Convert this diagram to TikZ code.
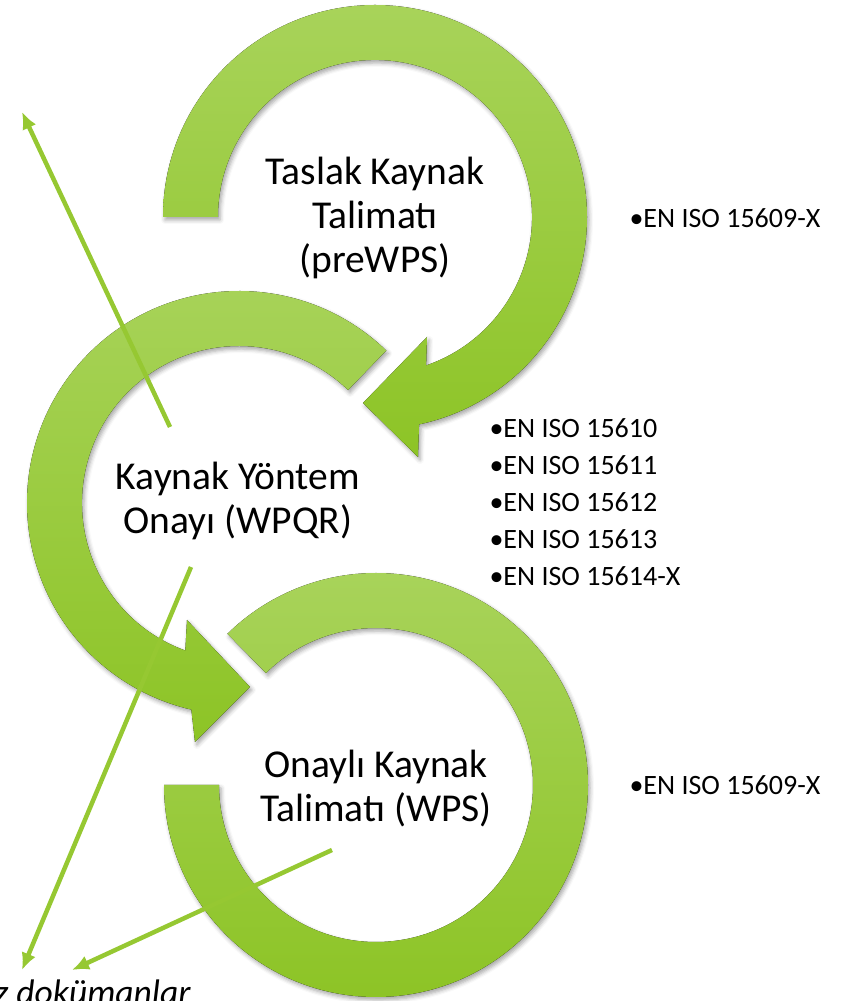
\documentclass[tikz,border=0pt]{standalone}
\usepackage{fontspec}
\setmainfont{Carlito}
\usepackage{tikz}
\usetikzlibrary{
  positioning,
  shadows.blur,
  arrows.meta
}
\definecolor{ringlight}{RGB}{168,211,90}
\definecolor{ringdark}{RGB}{141,196,38}
\definecolor{leadgreen}{RGB}{150,200,50}
\tikzset{
  ringarrow/.style={top color=ringlight,bottom color=ringdark,
    blur shadow={shadow xshift=2pt,shadow yshift=-3pt,shadow blur radius=4pt,shadow opacity=35}},
  steplabel/.style={align=center,font=\fontsize{39.5}{44}\selectfont},
  stdlist/.style={align=left,anchor=west,font=\fontsize{28}{37}\selectfont},
  leader/.style={draw=leadgreen,line width=4.5pt,->}
}

\begin{document}
\begin{tikzpicture}[x=1pt,y=1pt,>={Latex[length=17pt,width=15pt]}]
                \useasboundingbox (0,0) rectangle (845,1001);
                \coordinate (c1) at (375,784);
                \coordinate (c2) at (239,498);
                \coordinate (c3) at (376,216);
                \fill[ringarrow] ([shift={(180:212)}]c1) arc[start angle=180,end angle=-78,radius=212]
                    -- (418,544) -- (363,598) -- (427,664)
                    -- ([shift={(-71:157)}]c1) arc[start angle=-71,end angle=180,radius=157] -- cycle;
                \fill[ringarrow] ([shift={(46:212)}]c2) arc[start angle=46,end angle=257,radius=212]
                    -- (195,259) -- (250,314) -- (187,381)
                    -- ([shift={(250:157)}]c2) arc[start angle=250,end angle=46,radius=157] -- cycle;
                \fill[ringarrow] ([shift={(180:212)}]c3) arc[start angle=180,end angle=494.5,radius=212]
                    -- ([shift={(134.5:157)}]c3) arc[start angle=134.5,end angle=-180,radius=157] -- cycle;
                \node[steplabel] (prewps) at (375,783) {Taslak Kaynak\\Talimatı\\(preWPS)};
                \node[steplabel] (wpqr) at (238,500) {Kaynak Yöntem\\Onayı (WPQR)};
                \node[steplabel] (wps) at (376,212) {Onaylı Kaynak\\Talimatı (WPS)};
                \node[stdlist] (std1) at (626,783) {•EN ISO 15609-X};
                \node[stdlist] (std2) at (486,499) {•EN ISO 15610\\•EN ISO 15611\\•EN ISO 15612\\•EN ISO 15613\\•EN ISO 15614-X};
                \node[stdlist] (std3) at (626,216) {•EN ISO 15609-X};
                \node[anchor=base east,font=\itshape\fontsize{35.5}{42}\selectfont] (docs) at (194,-4) {z dokümanlar};
                \coordinate (wpqrUp) at (170,574);
                \coordinate (upEnd) at (22,889);
                \coordinate (wpqrDown) at (191,434);
                \coordinate (downEnd) at (22,31);
                \coordinate (wpsDown) at (332,151);
                \coordinate (docsEnd) at (72,31);
                \draw[leader] (wpqrUp) -- (upEnd);
                \draw[leader] (wpqrDown) -- (downEnd);
                \draw[leader] (wpsDown) -- (docsEnd);
            \end{tikzpicture}
\end{document}
